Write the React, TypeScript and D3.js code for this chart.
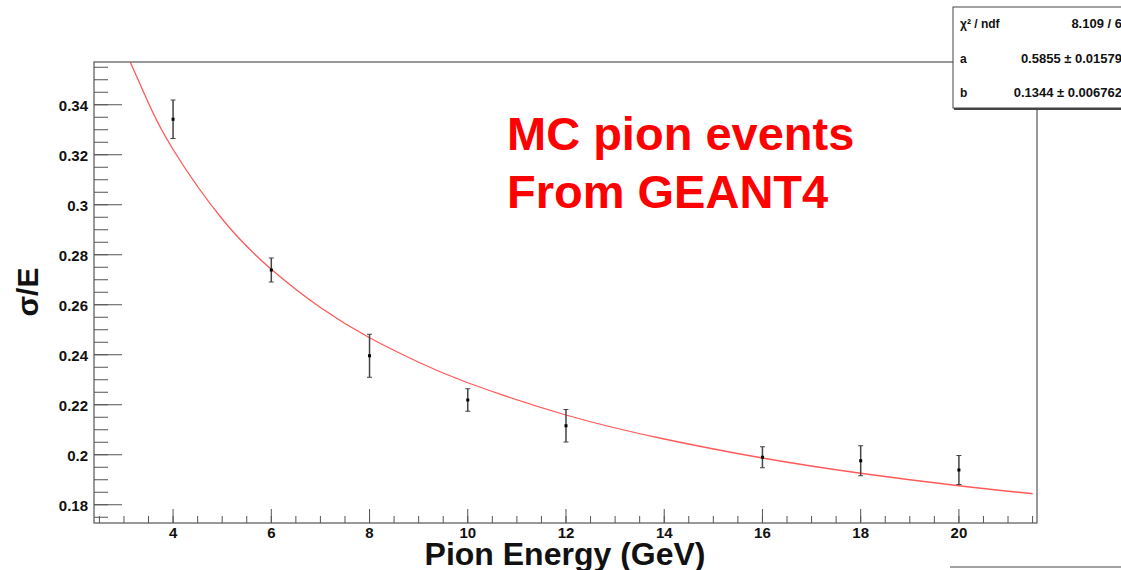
import React from "react";
import * as d3 from "d3";

// measured points (sigma/E vs pion energy)
const energies = [4, 6, 8, 10, 12, 16, 18, 20];
const sigmaE = [0.3342, 0.2739, 0.2396, 0.2219, 0.2116, 0.199, 0.1976, 0.1939];
const sigmaErr = [0.0077, 0.0048, 0.0086, 0.0045, 0.0065, 0.0042, 0.006, 0.0058];

// fit curve
const fitE = [3.13, 3.5, 4, 5, 6, 7, 8, 9, 10, 12, 14, 16, 18, 20, 21.5];
const fitVal = [0.357, 0.3406, 0.3221, 0.2943, 0.2742, 0.2589, 0.2468, 0.237, 0.2288, 0.2159, 0.2063, 0.1987, 0.1926, 0.1876, 0.1844];

const xTicks = [4, 6, 8, 10, 12, 14, 16, 18, 20];
const yTicks = [0.18, 0.2, 0.22, 0.24, 0.26, 0.28, 0.3, 0.32, 0.34];

const statLabels = ["χ² / ndf", "a", "b"];
const statValues = ["8.109 / 6", "0.5855 ± 0.01579", "0.1344 ± 0.006762"];

const W = 1121;
const H = 570;
const L = 94, R = 1037, T = 62, B = 523;

export default function App() {
  const x = d3.scaleLinear().domain([2.39, 21.59]).range([L, R]);
  const y = d3.scaleLinear().domain([0.1727, 0.3571]).range([B, T]);

  const xMinor = d3.range(2.5, 21.6, 0.5);
  const yMinor = d3.range(0.175, 0.357, 0.005);

  const line = d3
    .line<number>()
    .x((_, i) => x(fitE[i]))
    .y((d) => y(d))
    .curve(d3.curveNatural);

  const fmt = d3.format(".2~f");
  const font = "'Liberation Sans', Arial, Helvetica, sans-serif";
  const axisCol = "#555";

  return (
    <svg width={W} height={H} style={{ position: "absolute", left: 0, top: 0, background: "#fff" }} fontFamily={font}>
      <defs>
        <clipPath id="frame">
          <rect x={L} y={T} width={R - L} height={B - T} />
        </clipPath>
      </defs>
      <rect width={W} height={H} fill="#fff" />
      {/* frame */}
      <rect x={L} y={T} width={R - L} height={B - T} fill="none" stroke={axisCol} strokeWidth={1.2} />

      {/* y ticks */}
      {yMinor.map((v, i) => (
        <line key={"ym" + i} x1={L} x2={L + 14} y1={y(v)} y2={y(v)} stroke={axisCol} strokeWidth={1} />
      ))}
      {yTicks.map((v) => (
        <g key={"y" + v}>
          <line x1={L} x2={L + 28} y1={y(v)} y2={y(v)} stroke={axisCol} strokeWidth={1} />
          <text x={88} y={y(v) + 6} textAnchor="end" fontSize={15} fontWeight="bold" fill="#111">
            {fmt(v)}
          </text>
        </g>
      ))}

      {/* x ticks */}
      {xMinor.map((v, i) => (
        <line key={"xm" + i} x1={x(v)} x2={x(v)} y1={B} y2={B - 7} stroke={axisCol} strokeWidth={1} />
      ))}
      {xTicks.map((v) => (
        <g key={"x" + v}>
          <line x1={x(v)} x2={x(v)} y1={B} y2={B - 14} stroke={axisCol} strokeWidth={1} />
          <text x={x(v)} y={538} textAnchor="middle" fontSize={15} fontWeight="bold" fill="#111">
            {v}
          </text>
        </g>
      ))}

      {/* axis titles */}
      <text transform="translate(38,292) rotate(-90)" textAnchor="middle" fontSize={30} fontWeight="bold" fill="#111">
        σ/E
      </text>
      <text x={565} y={565} textAnchor="middle" fontSize={32} fontWeight="bold" fill="#111">
        Pion Energy (GeV)
      </text>

      {/* fit */}
      <path d={line(fitVal) || ""} fill="none" stroke="#ff3030" strokeOpacity={0.8} strokeWidth={1.3} clipPath="url(#frame)" />

      {/* data points */}
      {energies.map((e, i) => {
        const cx = x(e);
        const top = y(sigmaE[i] + sigmaErr[i]);
        const bot = y(sigmaE[i] - sigmaErr[i]);
        return (
          <g key={"p" + e}>
            <line x1={cx} x2={cx} y1={top} y2={bot} stroke="#444" strokeWidth={1.5} />
            <line x1={cx - 2.5} x2={cx + 2.5} y1={top} y2={top} stroke="#444" strokeWidth={1} />
            <line x1={cx - 2.5} x2={cx + 2.5} y1={bot} y2={bot} stroke="#444" strokeWidth={1} />
            <rect x={cx - 1.5} y={y(sigmaE[i]) - 1.5} width={3} height={3} fill="#000" />
          </g>
        );
      })}

      {/* annotation */}
      <text x={507} y={150} fontSize={47} fontWeight="bold" fill="#ff0000">
        MC pion events
      </text>
      <text x={507} y={208} fontSize={47} fontWeight="bold" fill="#ff0000">
        From GEANT4
      </text>

      {/* stats box */}
      <rect x={953} y={7} width={180} height={101} fill="#fff" stroke="#444" strokeWidth={1} />
      <line x1={954} x2={W} y1={109} y2={109} stroke="#444" strokeWidth={2} />
      {statLabels.map((s, i) => (
        <text key={"sl" + i} x={960} y={28 + i * 34.5} fontSize={12} fontWeight="bold" fill="#111">
          {s}
        </text>
      ))}
      {statValues.map((s, i) => (
        <text key={"sv" + i} x={1122} y={28 + i * 34.5} textAnchor="end" fontSize={13} fontWeight="bold" fill="#111">
          {s}
        </text>
      ))}

      {/* edge of another box at the bottom right */}
      <line x1={950} x2={W} y1={567} y2={567} stroke="#444" strokeWidth={1.2} />
    </svg>
  );
}
